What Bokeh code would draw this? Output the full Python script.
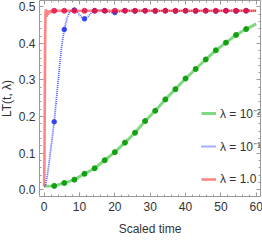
from bokeh.plotting import figure
from bokeh.models import Range1d, LinearAxis, FixedTicker, Legend, LegendItem
from bokeh.embed import file_html
from bokeh.resources import INLINE

# ---- data ----
t_marks = [2.86, 5.71, 8.57, 11.43, 14.29, 17.14, 20.0, 22.86, 25.71, 28.57,
           31.43, 34.29, 37.14, 40.0, 42.86, 45.71, 48.57, 51.43, 54.29, 57.14]

green_t = [0.0] + t_marks + [60.0]
green_v = [0.010, 0.011, 0.019, 0.028, 0.044, 0.059, 0.081, 0.103, 0.129, 0.156, 0.188,
           0.216, 0.247, 0.275, 0.304, 0.330, 0.356, 0.381, 0.402, 0.423, 0.439, 0.453]
green_marks = [0.011, 0.019, 0.028, 0.044, 0.059, 0.081, 0.103, 0.129, 0.156, 0.188,
               0.216, 0.247, 0.275, 0.304, 0.330, 0.356, 0.381, 0.402, 0.423, 0.439]

blue_t = [0.0, 0.4, 1.0, 1.5, 2.0, 2.86, 3.5, 4.3, 5.0, 5.71, 6.5, 7.3, 8.0, 8.57,
          9.5, 10.5, 11.43, 12.5, 13.5, 14.29, 15.5, 17.14, 18.5, 20.0, 21.5, 22.86,
          30.0, 40.0, 50.0, 60.0]
blue_v = [0.010, 0.012, 0.045, 0.080, 0.120, 0.186, 0.250, 0.330, 0.395, 0.438, 0.470,
          0.486, 0.491, 0.491, 0.484, 0.472, 0.467, 0.474, 0.485, 0.489, 0.491, 0.489,
          0.485, 0.484, 0.487, 0.489, 0.489, 0.488, 0.489, 0.489]
blue_marks = [0.186, 0.438, 0.491, 0.467, 0.489, 0.489, 0.484, 0.489, 0.488, 0.489,
              0.488, 0.489, 0.488, 0.489, 0.488, 0.489, 0.488, 0.489, 0.488, 0.489]

red_t = [0.0, 0.1, 0.2, 0.3, 0.4, 0.55, 0.7, 0.9, 1.1, 1.4, 1.8, 2.2, 2.86, 10.0, 20.0,
         30.0, 40.0, 50.0, 60.0]
red_v = [0.010, 0.08, 0.25, 0.42, 0.485, 0.493, 0.472, 0.490, 0.478, 0.489, 0.484, 0.489,
         0.489, 0.489, 0.489, 0.489, 0.489, 0.489, 0.489]
red_marks = [0.489] * 20

x_ticks = [0, 10, 20, 30, 40, 50, 60]
y_ticks = [0.0, 0.1, 0.2, 0.3, 0.4, 0.5]
labels = ["λ = 10⁻²", "λ = 10⁻¹", "λ = 1.0"]

FONT = "Liberation Sans"
AX = "#9a9a9a"
TXT = "#333333"

p = figure(width=268, height=245, output_backend="svg", toolbar_location=None,
           x_range=Range1d(-1.3, 61.2), y_range=Range1d(-0.018, 0.517),
           min_border_left=35, min_border_right=4, min_border_top=4, min_border_bottom=45)
p.margin = (-4, -4, -4, -4)
p.grid.visible = False
p.outline_line_color = None
p.background_fill_color = "white"

xt = FixedTicker(ticks=x_ticks, minor_ticks=[v for v in range(-2, 62, 2)])
yt = FixedTicker(ticks=y_ticks, minor_ticks=[round(0.02 * i, 2) for i in range(-1, 27)])


def style(ax, show_labels=True):
    ax.axis_line_color = AX
    ax.major_tick_line_color = AX
    ax.minor_tick_line_color = AX
    ax.major_tick_in = 4
    ax.major_tick_out = 0
    ax.minor_tick_in = 2
    ax.minor_tick_out = 0
    ax.major_label_text_font = FONT
    ax.major_label_text_font_size = "12px"
    ax.major_label_text_color = TXT
    ax.axis_label_text_font = FONT
    ax.axis_label_text_font_size = "12px"
    ax.axis_label_text_font_style = "normal"
    ax.axis_label_text_color = TXT
    if not show_labels:
        ax.major_label_text_font_size = "1px"
        ax.major_label_text_color = None
        ax.major_label_standoff = 0


p.xaxis.ticker = xt
p.yaxis.ticker = yt
p.yaxis.major_label_overrides = {0.0: "0.0", 0.1: "0.1", 0.2: "0.2", 0.3: "0.3", 0.4: "0.4", 0.5: "0.5"}
style(p.xaxis[0])
style(p.yaxis[0])
p.xaxis.major_label_standoff = 5
p.yaxis.major_label_standoff = 4
p.xaxis.axis_label = "Scaled time"
p.yaxis.axis_label = "LT(t, λ)"
p.xaxis.axis_label_standoff = 8
p.yaxis.axis_label_standoff = 2

top = LinearAxis(ticker=xt)
style(top, False)
p.add_layout(top, "above")
right = LinearAxis(ticker=yt)
style(right, False)
p.add_layout(right, "right")

# green
g_line = p.line(green_t, green_v, line_color="#55cc55", line_width=3, line_alpha=0.75)
p.scatter(t_marks, green_marks, size=5, color="#13a013")
# blue
b_line = p.line(blue_t, blue_v, line_color="#3b4cff", line_width=1.8, line_dash="1 1",
                line_alpha=0.9)
p.scatter(t_marks, blue_marks, size=4.5, color="#3344ee")
# red
r_line = p.line(red_t, red_v, line_color="#ff3333", line_width=2.6, line_alpha=0.6)
p.scatter(t_marks, red_marks, size=5, color="#e0104a", alpha=0.8)

legend = Legend(items=[LegendItem(label=labels[0], renderers=[g_line]),
                       LegendItem(label=labels[1], renderers=[b_line]),
                       LegendItem(label=labels[2], renderers=[r_line])],
                location=(162, 7), orientation="vertical")
legend.background_fill_alpha = 0
legend.border_line_alpha = 0
legend.padding = 0
legend.margin = 0
legend.spacing = 13
legend.glyph_width = 15
legend.glyph_height = 20
legend.label_height = 20
legend.label_standoff = 4
legend.label_text_font = FONT
legend.label_text_font_size = "12px"
legend.label_text_color = TXT
p.add_layout(legend)

open("out.html", "w").write(file_html(p, INLINE))
